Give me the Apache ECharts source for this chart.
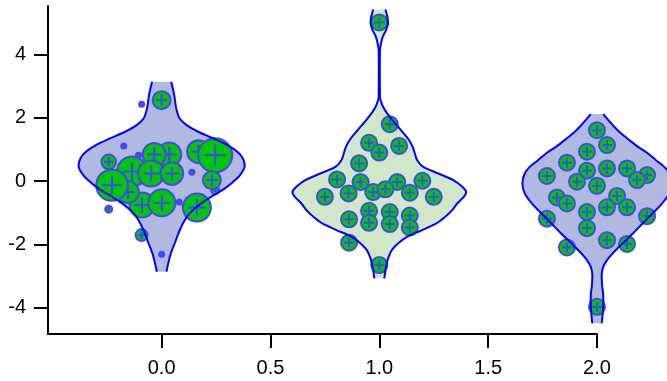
<!DOCTYPE html>
<html>
<head>
<meta charset="utf-8">
<script src="https://cdn.jsdelivr.net/npm/echarts@6/dist/echarts.min.js"></script>
<style>html,body{margin:0;padding:0;background:#fff;}#chart{width:667px;height:381px;}</style>
</head>
<body>
<div id="chart"></div>
<script>
// ---- data ----
const violinCenters = [0, 1, 2];
const xTickValues = [0, 0.5, 1, 1.5, 2];
const yTickValues = [-4, -2, 0, 2, 4];

// violin profiles: level (y) and half-width (x units)
const violin0Levels = [3.14, 2.72, 2.30, 1.98, 1.77, 1.56, 1.35, 1.14, 0.93, 0.72, 0.45, 0.19, -0.02, -0.23, -0.44, -0.65, -0.86, -1.08, -1.29, -1.50, -1.71, -1.92, -2.34, -2.87];
const violin0Half = [0.044, 0.058, 0.067, 0.083, 0.115, 0.168, 0.237, 0.302, 0.348, 0.373, 0.381, 0.360, 0.329, 0.291, 0.241, 0.193, 0.153, 0.122, 0.102, 0.087, 0.074, 0.063, 0.040, 0.022];

const violin1Levels = [5.43, 5.20, 4.99, 4.78, 4.57, 4.36, 4.15, 2.67, 2.56, 2.35, 2.14, 1.93, 1.72, 1.51, 1.30, 1.09, 0.88, 0.66, 0.45, 0.24, 0.03, -0.18, -0.34, -0.50, -0.71, -0.92, -1.13, -1.34, -1.55, -1.76, -1.97, -2.18, -2.40, -2.60, -2.82, -3.08];
const violin1Half = [0.028, 0.037, 0.040, 0.031, 0.016, 0.008, 0.003, 0.003, 0.006, 0.017, 0.036, 0.060, 0.086, 0.112, 0.136, 0.153, 0.163, 0.174, 0.202, 0.271, 0.340, 0.381, 0.399, 0.388, 0.358, 0.335, 0.303, 0.262, 0.197, 0.129, 0.087, 0.058, 0.043, 0.034, 0.028, 0.023];

const violin2Levels = [2.12, 1.93, 1.72, 1.51, 1.30, 1.09, 0.88, 0.66, 0.45, 0.24, -0.07, -0.39, -0.60, -0.81, -1.02, -1.23, -1.45, -1.66, -1.87, -2.08, -2.29, -2.50, -2.71, -2.92, -3.13, -3.34, -3.55, -3.87, -4.19, -4.50];
const violin2Half = [0.029, 0.052, 0.079, 0.110, 0.148, 0.187, 0.233, 0.271, 0.309, 0.332, 0.343, 0.332, 0.312, 0.286, 0.256, 0.225, 0.194, 0.165, 0.133, 0.102, 0.072, 0.046, 0.029, 0.022, 0.022, 0.024, 0.028, 0.029, 0.026, 0.022];

// points: group 0 (with marker size values)
const group0X = [-0.136, 0.035, 0.170, -0.090, -0.155, 0.246, -0.034, 0.246, -0.048, 0.047, -0.228, 0.001, 0.162, 0.231, -0.243, -0.243, 0.000, -0.092, -0.092, -0.174, -0.106, 0.139, 0.081, 0.000];
const group0Y = [0.30, 0.84, 0.93, -0.76, -0.35, -0.29, 0.84, 0.82, 0.24, 0.24, -0.13, -0.69, -0.84, 0.03, 0.61, -0.89, 2.56, -1.71, 2.43, 1.11, 0.82, 0.28, -0.66, -2.32];
const group0Size = [16, 13, 12.5, 13.5, 12, 5, 12.5, 18, 14, 12.3, 16.7, 14.5, 15, 10, 8.3, 4.5, 10, 7, 3.5, 3.5, 3.5, 3.5, 3.5, 3.5];

const group1X = [1.000, 1.048, 0.953, 1.000, 1.091, 0.907, 0.806, 0.914, 1.082, 1.198, 0.750, 0.859, 0.972, 1.028, 1.140, 1.250, 0.953, 1.048, 1.140, 0.861, 0.953, 1.048, 1.140, 0.861, 1.000];
const group1Y = [5.02, 1.80, 1.21, 0.90, 1.11, 0.56, 0.05, -0.03, -0.03, 0.01, -0.50, -0.39, -0.35, -0.26, -0.37, -0.50, -0.94, -0.98, -1.09, -1.21, -1.32, -1.36, -1.47, -1.95, -2.66];

const group2X = [2.000, 2.046, 1.954, 1.862, 1.954, 2.046, 2.138, 2.230, 2.184, 1.770, 1.908, 2.000, 1.816, 1.862, 2.092, 2.046, 2.138, 1.954, 2.230, 1.770, 1.954, 2.046, 2.138, 1.862, 2.000];
const group2Y = [1.61, 1.14, 0.93, 0.58, 0.33, 0.40, 0.40, 0.19, 0.03, 0.16, -0.02, -0.15, -0.52, -0.71, -0.47, -0.83, -0.83, -0.98, -1.11, -1.19, -1.49, -1.87, -1.99, -2.10, -3.98];
const groupDefaultSize = 9;

// ---- build ----
const violinLevels = [violin0Levels, violin1Levels, violin2Levels];
const violinHalf = [violin0Half, violin1Half, violin2Half];
const violinFill = ['#b1b9e1', '#d1e7c7', '#b1b9e1'];
const outlineColor = '#0000ff';
const markerFill = '#00c800';
const markerEdge = '#4646f4';

function sidePoints(api, i, sign) {
  const c = violinCenters[i];
  return violinLevels[i].map((y, k) => api.coord([c + sign * violinHalf[i][k], y]));
}

function renderViolinFill(params, api) {
  const i = params.dataIndex;
  const right = sidePoints(api, i, 1);
  const left = sidePoints(api, i, -1).reverse();
  return {
    type: 'polygon',
    shape: { points: right.concat(left) },
    style: { fill: violinFill[i], stroke: null }
  };
}

function renderViolinLine(params, api) {
  const i = params.dataIndex;
  return {
    type: 'group',
    children: [
      { type: 'polyline', shape: { points: sidePoints(api, i, 1), smooth: 0.3 }, style: { fill: null, stroke: outlineColor, lineWidth: 2 } },
      { type: 'polyline', shape: { points: sidePoints(api, i, -1), smooth: 0.3 }, style: { fill: null, stroke: outlineColor, lineWidth: 2 } }
    ]
  };
}

function renderPoint(params, api) {
  const p = api.coord([api.value(0), api.value(1)]);
  const s = api.value(2);
  if (s <= 4) {
    return { type: 'circle', shape: { cx: p[0], cy: p[1], r: s }, style: { fill: markerEdge } };
  }
  const r = s - 1;
  const a = r * 0.62;
  return {
    type: 'group',
    children: [
      { type: 'circle', shape: { cx: p[0], cy: p[1], r: r }, style: { fill: markerFill, stroke: markerEdge, lineWidth: 2 } },
      { type: 'line', shape: { x1: p[0] - a, y1: p[1], x2: p[0] + a, y2: p[1] }, style: { stroke: markerEdge, lineWidth: 2 } },
      { type: 'line', shape: { x1: p[0], y1: p[1] - a, x2: p[0], y2: p[1] + a }, style: { stroke: markerEdge, lineWidth: 2 } }
    ]
  };
}

const pointData = [];
group0X.forEach((x, k) => pointData.push([x, group0Y[k], group0Size[k]]));
group1X.forEach((x, k) => pointData.push([x, group1Y[k], groupDefaultSize]));
group2X.forEach((x, k) => pointData.push([x, group2Y[k], groupDefaultSize]));

const violinData = violinCenters.map((c, i) => [c, 0]);

const chart = echarts.init(document.getElementById('chart'), null, { renderer: 'canvas' });
chart.setOption({
  animation: false,
  backgroundColor: '#fff',
  grid: { left: 48, right: 70, top: 6, bottom: 47, containLabel: false, outerBoundsMode: 'none' },
  xAxis: {
    type: 'value', min: -0.522, max: 2.0,
    splitLine: { show: false },
    axisLine: { show: true, onZero: false, lineStyle: { color: '#000', width: 2 } },
    axisTick: { show: true, length: 14, lineStyle: { color: '#000', width: 2 }, customValues: xTickValues },
    axisLabel: {
      show: true, margin: 24, color: '#000', fontSize: 20,
      customValues: xTickValues, formatter: v => Number(v).toFixed(1)
    }
  },
  yAxis: {
    type: 'value', min: -4.84, max: 5.54,
    splitLine: { show: false },
    axisLine: { show: true, onZero: false, lineStyle: { color: '#000', width: 2 } },
    axisTick: { show: true, length: 14, lineStyle: { color: '#000', width: 2 }, customValues: yTickValues },
    axisLabel: {
      show: true, margin: 22, color: '#000', fontSize: 20,
      customValues: yTickValues, formatter: v => String(v)
    }
  },
  series: [
    { type: 'custom', z: 1, clip: false, renderItem: renderViolinFill, data: violinData, silent: true },
    { type: 'custom', z: 2, clip: false, renderItem: renderPoint, data: pointData, silent: true },
    { type: 'custom', z: 3, clip: false, renderItem: renderViolinLine, data: violinData, silent: true }
  ]
});
</script>
</body>
</html>
